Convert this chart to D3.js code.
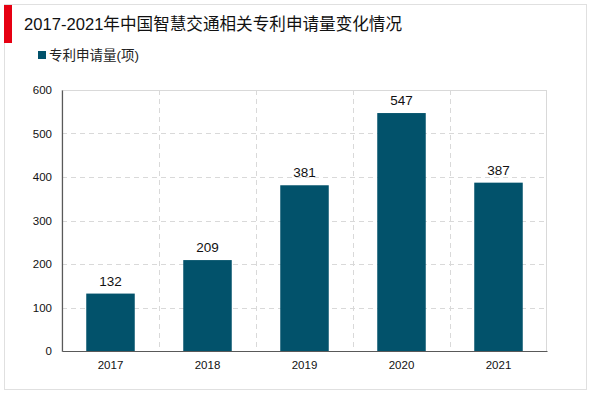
<!DOCTYPE html>
<html><head><meta charset="utf-8">
<script src="https://cdn.jsdelivr.net/npm/d3@7"></script>
<style>body{margin:0;background:#fff;}svg{display:block;font-family:"Liberation Sans",Arial,"Noto Sans CJK SC",sans-serif;}</style>
</head><body><svg id="c" width="600" height="393"></svg>
<script>
const categories = ["2017","2018","2019","2020","2021"];
const values = [132,209,381,547,387];
const yTicks = [0,100,200,300,400,500,600];
const title = "2017-2021年中国智慧交通相关专利申请量变化情况";
const seriesName = "专利申请量(项)";

const svg = d3.select("#c");
const W=600,H=393;
const m={l:62,r:53,t:90,b:42};
const iw=W-m.l-m.r, ih=H-m.t-m.b;
const barColor="#02526b";

// outer frame
svg.append("rect").attr("x",4.5).attr("y",4.5).attr("width",582).attr("height",385)
  .attr("fill","#fff").attr("stroke","#e0e0e0");
svg.append("rect").attr("x",4).attr("y",5).attr("width",8).attr("height",38).attr("fill","#e60012");
svg.append("text").attr("x",24).attr("y",30).attr("font-size",16.6).attr("fill","#111")
  .style("font-family","'Liberation Sans','Noto Sans CJK SC',sans-serif").text(title);

// legend
svg.append("rect").attr("x",38).attr("y",51).attr("width",8).attr("height",8).attr("fill",barColor);
svg.append("text").attr("x",49).attr("y",60).attr("font-size",13.5).attr("fill","#222").text(seriesName);

const x=d3.scaleBand().domain(categories).range([0,iw]).paddingInner(0.5).paddingOuter(0.25);
const y=d3.scaleLinear().domain([0,600]).range([ih,0]);
const g=svg.append("g").attr("transform",`translate(${m.l},${m.t})`);

// plot border
g.append("rect").attr("x",0).attr("y",0.5).attr("width",iw-0.5).attr("height",ih)
  .attr("fill","none").attr("stroke","#d9d9d9");
// horizontal grid
g.selectAll(".hg").data(yTicks.filter(d=>d>0&&d<600)).join("line")
  .attr("x1",0).attr("x2",iw).attr("y1",d=>Math.round(y(d))+0.5).attr("y2",d=>Math.round(y(d))+0.5)
  .attr("stroke","#d9d9d9").attr("stroke-dasharray","5,4");
// vertical grid at band boundaries
const step=x.step();
g.selectAll(".vg").data(categories.slice(1)).join("line")
  .attr("x1",(d,i)=>Math.round(step*(i+1))+0.5).attr("x2",(d,i)=>Math.round(step*(i+1))+0.5)
  .attr("y1",0).attr("y2",ih).attr("stroke","#d9d9d9").attr("stroke-dasharray","5,4");

// bars
g.selectAll(".bar").data(values).join("rect")
  .attr("x",(d,i)=>x(categories[i])).attr("width",x.bandwidth())
  .attr("y",d=>y(d)).attr("height",d=>ih-y(d)).attr("fill",barColor);
g.selectAll(".lbl").data(values).join("text")
  .attr("x",(d,i)=>x(categories[i])+x.bandwidth()/2).attr("y",d=>y(d)-8)
  .attr("text-anchor","middle").attr("font-size",13.5).attr("fill","#111").text(d=>d);

// axes
const ya=d3.axisLeft(y).tickValues(yTicks).tickSize(0).tickPadding(10);
const yg=g.append("g").call(ya);
yg.select(".domain").attr("stroke","#595959").attr("stroke-width",1.2);
yg.selectAll("text").attr("font-size",11.5).attr("fill","#111");
const xa=d3.axisBottom(x).tickSize(0).tickPadding(10);
const xg=g.append("g").attr("transform",`translate(0,${ih})`).call(xa);
xg.select(".domain").attr("stroke","#595959").attr("stroke-width",1.2);
xg.selectAll("text").attr("font-size",11.5).attr("fill","#111");
</script></body></html>
